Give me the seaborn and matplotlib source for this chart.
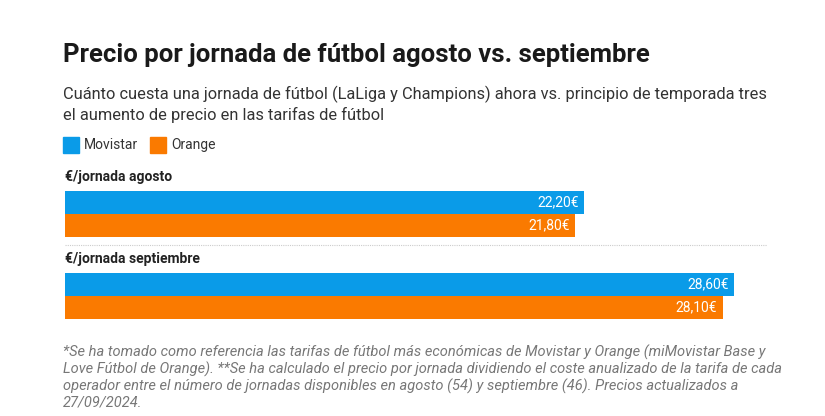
import pandas as pd
import matplotlib.pyplot as plt
import seaborn as sns

# values
periods = ["€/jornada agosto", "€/jornada septiembre"]
operators = ["Movistar", "Orange"]
movistar = [22.20, 28.60]
orange = [21.80, 28.10]
colors = {"Movistar": "#0A9BE8", "Orange": "#FA7A00"}

title = "Precio por jornada de fútbol agosto vs. septiembre"
subtitle = ("Cuánto cuesta una jornada de fútbol (LaLiga y Champions) ahora vs. principio de temporada tres\n"
            "el aumento de precio en las tarifas de fútbol")
footnote = ("*Se ha tomado como referencia las tarifas de fútbol más económicas de Movistar y Orange (miMovistar Base y\n"
            "Love Fútbol de Orange). **Se ha calculado el precio por jornada dividiendo el coste anualizado de la tarifa de cada\n"
            "operador entre el número de jornadas disponibles en agosto (54) y septiembre (46). Precios actualizados a\n"
            "27/09/2024.")

df = pd.DataFrame({
    "periodo": periods * 2,
    "operador": ["Movistar"] * 2 + ["Orange"] * 2,
    "valor": movistar + orange,
})

sns.set_theme(style="white")
plt.rcParams["font.family"] = ["Roboto", "DejaVu Sans"]

fig = plt.figure(figsize=(8.25, 4.16), dpi=100)
ax = fig.add_axes([65 / 825, 87 / 416, 702 / 825, 164 / 416])

sns.barplot(data=df, y="periodo", x="valor", hue="operador", order=periods,
            hue_order=operators, palette=colors, orient="h", width=0.56,
            gap=0, saturation=1, legend=False, linewidth=0, ax=ax)

ax.set_xlim(0, 30)
ax.set_ylim(1.4, -0.6)
ax.set_axis_off()

# value labels inside the bars
for container in ax.containers:
    labels = [f"{v:.2f}€".replace(".", ",") for v in container.datavalues]
    texts = ax.bar_label(container, labels=labels, padding=-4, color="white",
                         fontsize=10, label_type="edge")
    for t in texts:
        t.set_ha("right")

# group labels above each pair of bars
for i, p in enumerate(periods):
    ax.text(0, i - 0.45, p, fontsize=10, fontweight="bold", color="#222222",
            va="center", ha="left")

ax.plot([0, 30], [0.37, 0.37], color="#cccccc", lw=0.8, ls=(0, (1, 1)),
        clip_on=False)

# header
fig.text(63 / 825, 1 - 55 / 416, title, fontsize=18.5, fontweight="bold",
         color="#1a1a1a", va="center")
fig.text(63 / 825, 1 - 104 / 416, subtitle, fontsize=11.8, color="#333333",
         va="center", linespacing=1.3)

# legend
for name, lx in zip(operators, [63, 150]):
    fig.patches.append(plt.Rectangle((lx / 825, 1 - 153 / 416), 16 / 825, 16 / 416,
                                     transform=fig.transFigure, color=colors[name]))
    fig.text((lx + 21) / 825, 1 - 145 / 416, name, fontsize=10, color="#333333",
             va="center")

fig.text(63 / 825, 1 - 377 / 416, footnote, fontsize=10.5, style="italic",
         color="#777777", va="center", linespacing=1.12)

fig.savefig("out.png", dpi=100, facecolor="white")
